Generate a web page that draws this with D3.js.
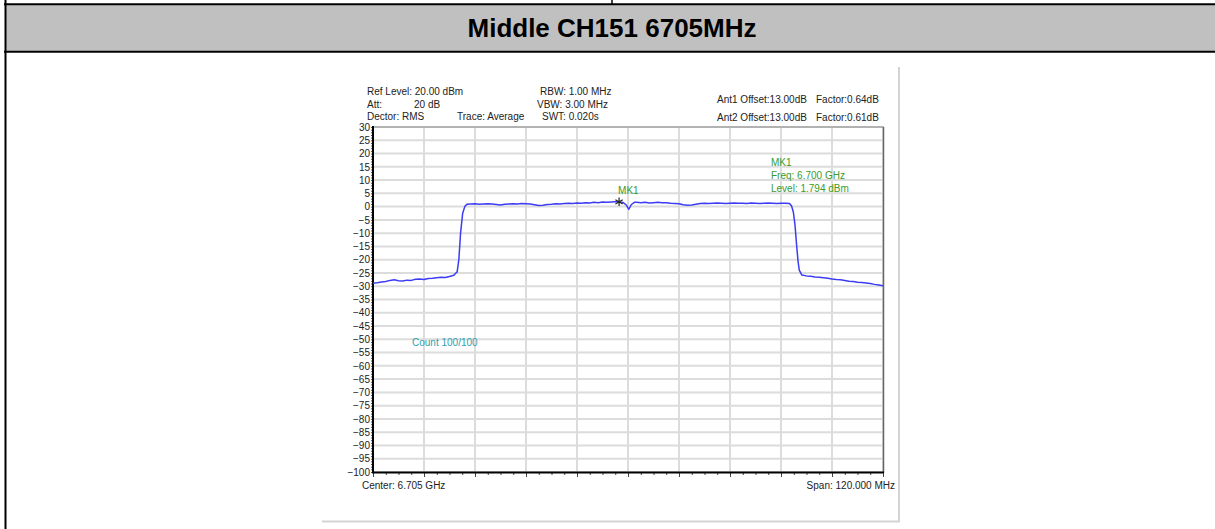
<!DOCTYPE html>
<meta charset="utf-8">
<head>
<script src="https://cdn.jsdelivr.net/npm/d3@7"></script>
</head>
<style>
    html, body { margin: 0; padding: 0; background: #fff; }
    svg { display: block; }
    .title { font-family: "Liberation Sans", Arial, sans-serif; font-weight: bold; font-size: 26px; fill: #000; }
    .info { font-family: "Liberation Sans", Arial, sans-serif; font-size: 10px; fill: #222; }
    .mk { fill: #3a9a2a; }
    .count { fill: #2f9fb0; }
    .ylab text { font-family: "Liberation Sans", Arial, sans-serif; font-size: 10px; fill: #222; }
    .grid line { stroke: #dcdcdc; stroke-width: 2; }
</style>
<body>
<svg width="1215" height="529"></svg>
<script>
    // x axis: frequency in MHz, y axis: level in dBm
    var centerGHz = 6.705, spanMHz = 120;
    var yTicks = d3.range(-100, 31, 5);

    // trace (MHz, dBm)
    var traceFreq = [6645, 6646, 6647, 6648, 6649, 6650, 6651, 6652, 6653, 6654,
        6655, 6656, 6657, 6658, 6659, 6660, 6661, 6662, 6663, 6664, 6664.4,
        6664.8, 6665.2, 6665.6, 6666.1, 6666.6, 6667.1, 6668, 6669, 6670,
        6671, 6672, 6673, 6674, 6675, 6676, 6677, 6678, 6679, 6680,
        6681, 6682, 6683, 6684, 6685, 6686, 6687, 6688, 6689, 6690,
        6691, 6692, 6693, 6694, 6695, 6696, 6697, 6698, 6699, 6700,
        6701, 6702, 6702.9, 6703.8, 6704.6, 6705.2, 6705.8, 6706.5, 6707, 6708,
        6709, 6710, 6711, 6712, 6713, 6714, 6715, 6716, 6717, 6718,
        6719, 6720, 6721, 6722, 6723, 6724, 6725, 6726, 6727, 6728,
        6729, 6730, 6731, 6732, 6733, 6734, 6735, 6736, 6737, 6738,
        6739, 6740, 6741, 6742, 6743, 6743.5, 6743.9, 6744.3, 6744.7, 6745.0,
        6745.3, 6745.9, 6747, 6748, 6749, 6750, 6751, 6752, 6753, 6754,
        6755, 6756, 6757, 6758, 6759, 6760, 6761, 6762, 6763, 6764, 6765];
    var traceLevel = [-28.9, -28.7, -28.4, -28.2, -27.8, -27.6, -27.9, -28.0, -27.7, -27.8,
        -27.4, -27.3, -27.5, -27.1, -27.0, -26.8, -26.6, -26.7, -26.3, -25.9, -25.2,
        -24.6, -20.0, -10.0, -2.5, 0.0, 0.9, 1.0, 1.1, 0.9,
        1.0, 1.1, 1.0, 0.8, 0.6, 0.9, 1.0, 1.1, 1.0, 1.2,
        1.1, 1.0, 0.7, 0.4, 0.5, 0.8, 0.9, 1.1, 1.0, 1.2,
        1.3, 1.2, 1.4, 1.3, 1.5, 1.4, 1.6, 1.5, 1.7, 1.6,
        1.7, 1.8, 1.79, 1.6, 0.6, -1.0, 0.8, 1.6, 1.6, 1.5,
        1.6, 1.4, 1.5, 1.6, 1.5, 1.5, 1.3, 1.2, 1.1, 0.7,
        0.5, 0.6, 0.9, 1.2, 1.3, 1.2, 1.3, 1.4, 1.3, 1.2,
        1.3, 1.4, 1.3, 1.3, 1.2, 1.4, 1.3, 1.2, 1.3, 1.4,
        1.3, 1.2, 1.3, 1.3, 1.2, 0.2, -2.0, -7.0, -15.0, -20.5,
        -23.9, -25.8, -26.1, -26.2, -26.5, -26.6, -26.8, -27.0, -27.3, -27.5,
        -27.6, -27.8, -28.1, -28.2, -28.5, -28.6, -28.8, -29.0, -29.3, -29.5, -29.8];

    var markerFreq = 6702.9, markerLevel = 1.794;

    var headerLeft = [
        ["Ref Level: 20.00 dBm", 367, 95],
        ["Att:", 367, 107.5],
        ["20 dB", 414, 107.5],
        ["Dector: RMS", 367, 120],
        ["Trace: Average", 457, 120],
        ["RBW: 1.00 MHz", 540, 95],
        ["VBW: 3.00 MHz", 537, 107.5],
        ["SWT: 0.020s", 542, 120],
        ["Ant1 Offset:13.00dB", 717, 103],
        ["Factor:0.64dB", 816, 103],
        ["Ant2 Offset:13.00dB", 717, 121],
        ["Factor:0.61dB", 816, 121]
    ];
    var mkLines = ["MK1", "Freq: 6.700 GHz", "Level: 1.794 dBm"];

    var svg = d3.select("svg");

    // table cell around the chart
    svg.append("rect").attr("x", 5).attr("y", 5).attr("width", 1215).attr("height", 46).attr("fill", "#c0c0c0");
    svg.append("line").attr("x1", 4).attr("x2", 1215).attr("y1", 4.3).attr("y2", 4.3).attr("stroke", "#000").attr("stroke-width", 2);
    svg.append("line").attr("x1", 4).attr("x2", 1215).attr("y1", 51.7).attr("y2", 51.7).attr("stroke", "#000").attr("stroke-width", 2);
    svg.append("line").attr("x1", 5.5).attr("x2", 5.5).attr("y1", 0).attr("y2", 529).attr("stroke", "#000").attr("stroke-width", 2);
    svg.append("line").attr("x1", 612).attr("x2", 612).attr("y1", 0).attr("y2", 4).attr("stroke", "#000").attr("stroke-width", 1.5);
    svg.append("text").attr("class", "title").attr("x", 612).attr("y", 37)
        .attr("text-anchor", "middle").text("Middle CH151 6705MHz");

    // screenshot panel edge
    svg.append("line").attr("x1", 899).attr("x2", 899).attr("y1", 67).attr("y2", 522).attr("stroke", "#d4d4d4").attr("stroke-width", 2);
    svg.append("line").attr("x1", 322).attr("x2", 900).attr("y1", 521.5).attr("y2", 521.5).attr("stroke", "#d4d4d4").attr("stroke-width", 2);

    var x = d3.scaleLinear()
        .domain([centerGHz * 1000 - spanMHz / 2, centerGHz * 1000 + spanMHz / 2])
        .range([373, 883]);
    var y = d3.scaleLinear().domain([-100, 30]).range([472, 127]);

    var xMajor = d3.range(0, 11).map(function(i) { return x.domain()[0] + i * spanMHz / 10; });
    var xMinor = d3.range(0, 41).map(function(i) { return x.domain()[0] + i * spanMHz / 40; });

    // grid
    var grid = svg.append("g").attr("class", "grid");
    grid.selectAll(".h").data(yTicks).enter().append("line")
        .attr("x1", 373).attr("x2", 883)
        .attr("y1", function(d) { return y(d); }).attr("y2", function(d) { return y(d); });
    grid.selectAll(".v").data(xMajor).enter().append("line")
        .attr("y1", 127).attr("y2", 472)
        .attr("x1", function(d) { return x(d); }).attr("x2", function(d) { return x(d); });

    // frame
    svg.append("line").attr("x1", 373).attr("x2", 884).attr("y1", 127).attr("y2", 127).attr("stroke", "#888").attr("stroke-width", 1);
    svg.append("line").attr("x1", 883.5).attr("x2", 883.5).attr("y1", 127).attr("y2", 473).attr("stroke", "#666").attr("stroke-width", 1.5);

    // y axis
    var yAxis = svg.append("g").attr("class", "ylab").attr("transform", "translate(373,0)")
        .call(d3.axisLeft(y).tickValues(yTicks).tickSize(0).tickPadding(3));
    yAxis.select(".domain").remove();
    var yMinor = svg.append("g").attr("transform", "translate(373,0)")
        .call(d3.axisLeft(y).tickValues(d3.range(-100, 31, 1)).tickSize(2).tickFormat(""));
    yMinor.select(".domain").remove();
    yMinor.selectAll("line").attr("stroke", "#555");

    // x axis ticks
    var xMin = svg.append("g").attr("transform", "translate(0,472)")
        .call(d3.axisBottom(x).tickValues(xMinor).tickSize(3).tickFormat(""));
    xMin.select(".domain").remove();
    xMin.selectAll("line").attr("stroke", "#444");
    var xMaj = svg.append("g").attr("transform", "translate(0,472)")
        .call(d3.axisBottom(x).tickValues(xMajor).tickSize(5).tickFormat(""));
    xMaj.select(".domain").remove();
    xMaj.selectAll("line").attr("stroke", "#444");

    svg.append("line").attr("x1", 373).attr("x2", 373).attr("y1", 126).attr("y2", 473).attr("stroke", "#000").attr("stroke-width", 2);
    svg.append("line").attr("x1", 372).attr("x2", 884).attr("y1", 472.5).attr("y2", 472.5).attr("stroke", "#000").attr("stroke-width", 2);

    // trace
    var pts = traceFreq.map(function(f, i) { return [f, traceLevel[i]]; });
    var line = d3.line()
        .x(function(d) { return x(d[0]); })
        .y(function(d) { return y(d[1]); });
    svg.append("path").datum(pts)
        .attr("fill", "none").attr("stroke", "#3c3cf5").attr("stroke-width", 1.5)
        .attr("stroke-linejoin", "round")
        .attr("d", line);

    // marker
    svg.append("path")
        .attr("d", d3.symbol(d3.symbolAsterisk, 50)())
        .attr("transform", "translate(" + x(markerFreq) + "," + y(markerLevel) + ")")
        .attr("fill", "none").attr("stroke", "#222").attr("stroke-width", 1.2);
    svg.append("text").attr("class", "info mk")
        .attr("x", x(markerFreq) - 1).attr("y", y(markerLevel) - 8).text("MK1");

    // header texts
    svg.selectAll(".hdr").data(headerLeft).enter().append("text")
        .attr("class", "info")
        .attr("x", function(d) { return d[1]; })
        .attr("y", function(d) { return d[2]; })
        .text(function(d) { return d[0]; });

    svg.selectAll(".mkl").data(mkLines).enter().append("text")
        .attr("class", "info mk")
        .attr("x", 771)
        .attr("y", function(d, i) { return 166 + i * 13; })
        .text(function(d) { return d; });

    svg.append("text").attr("class", "info count").attr("x", 412).attr("y", 345.5).text("Count 100/100");
    svg.append("text").attr("class", "info").attr("x", 362).attr("y", 489).text("Center: " + centerGHz.toFixed(3) + " GHz");
    svg.append("text").attr("class", "info").attr("x", 895).attr("y", 489)
        .attr("text-anchor", "end").text("Span: " + spanMHz.toFixed(3) + " MHz");
</script>
</body>
